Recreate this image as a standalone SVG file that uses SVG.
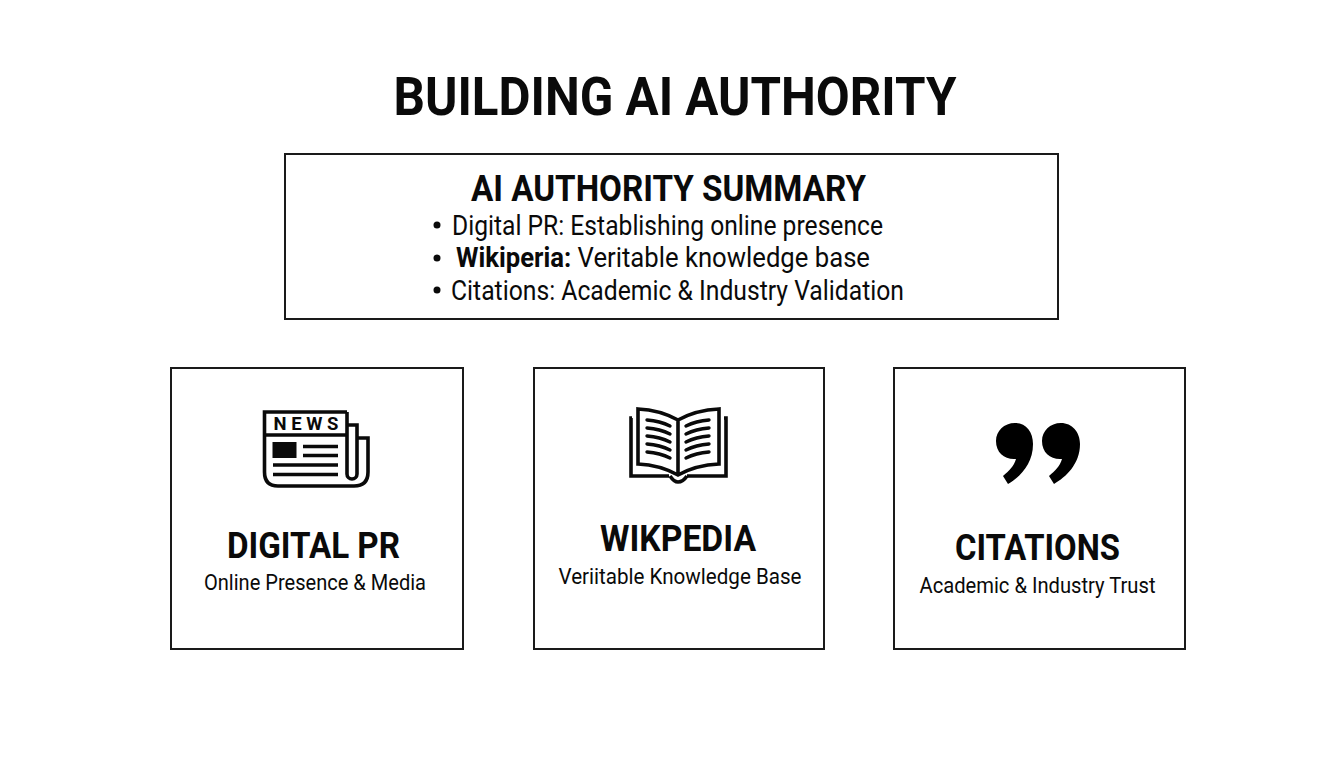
<svg xmlns="http://www.w3.org/2000/svg" width="1344" height="768" viewBox="0 0 1344 768">
<style>
text{font-family:Roboto,"Liberation Sans",sans-serif;fill:#0a0a0a;text-anchor:middle}
.box{fill:#fff;stroke:#1a1a1a;stroke-width:2}
.h{font-weight:700;font-size:37.500px}
.s{font-size:22px}
.b{font-size:27px}
.ic{fill:none;stroke:#0a0a0a;stroke-width:3.6}
.ln{fill:none;stroke:#0a0a0a;stroke-width:3.4;stroke-linecap:round}
</style>
<rect width="1344" height="768" fill="#fff"/>
<g id="title"><text x="675" y="114.500" font-size="54.500" font-weight="700" textLength="563" lengthAdjust="spacingAndGlyphs">BUILDING AI AUTHORITY</text></g>
<g id="summary">
<rect class="box" x="285" y="154" width="773" height="165"/>
<text x="668.500" y="200.500" font-size="37.500" font-weight="700" textLength="395" lengthAdjust="spacingAndGlyphs">AI AUTHORITY SUMMARY</text>
<circle cx="437" cy="225" r="3.500" fill="#0a0a0a"/>
<text x="667.500" y="235" class="b" textLength="431" lengthAdjust="spacingAndGlyphs">Digital PR: Establishing online presence</text>
<circle cx="437" cy="258" r="3.500" fill="#0a0a0a"/>
<text x="663" y="267" class="b" textLength="414" lengthAdjust="spacingAndGlyphs"><tspan font-weight="700">Wikiperia:</tspan> Veritable knowledge base</text>
<circle cx="437" cy="290" r="3.500" fill="#0a0a0a"/>
<text x="677.500" y="300" class="b" textLength="453" lengthAdjust="spacingAndGlyphs">Citations: Academic &amp; Industry Validation</text>
</g>
<g id="digital-pr">
<rect class="box" x="171" y="368" width="292" height="281"/>
<path class="ic" d="M347 412H264.500V472Q264.500 486 278 486H354Q368 486 368 472V438H357"/>
<path class="ic" d="M264.500 435H347M347 412V474A5 5 0 0 0 357 474V425H347"/>
<text x="306" y="430" font-size="18.500" font-weight="700" textLength="65">NEWS</text>
<rect x="272.500" y="442" width="24" height="16" fill="#0a0a0a"/>
<path d="M303 446.500H338M303 455.500H338M273 465H338M273 474.500H338" fill="none" stroke="#0a0a0a" stroke-width="3.500"/>
<text x="313.500" y="557.500" class="h" textLength="173" lengthAdjust="spacingAndGlyphs">DIGITAL PR</text>
<text x="315" y="590" class="s" textLength="222" lengthAdjust="spacingAndGlyphs">Online Presence &amp; Media</text>
</g>
<g id="wikipedia">
<rect class="box" x="534" y="368" width="290" height="281"/>
<path class="ic" d="M678 420Q660 410 638 409V464Q660 465 678 475Q696 465 719 464V409Q696 410 678 420V475"/>
<path class="ic" d="M632 418H631V476H669M724 418H726V476H687"/>
<path class="ic" d="M670 476Q674 482 678 482Q683 482 687 476"/>
<path class="ln" d="M647 420Q660 421 670 426M647 428Q660 429 670 434M647 436Q660 437 670 442M647 444Q660 445 670 450M647 452Q660 453 670 458M709 420Q696 421 686 426M709 428Q696 429 686 434M709 436Q696 437 686 442M709 444Q696 445 686 450M709 452Q696 453 686 458"/>
<text x="678" y="550.500" class="h" textLength="156" lengthAdjust="spacingAndGlyphs">WIKPEDIA</text>
<text x="680" y="584" class="s" textLength="243" lengthAdjust="spacingAndGlyphs">Veriitable Knowledge Base</text>
</g>
<g id="citations">
<rect class="box" x="894" y="368" width="291" height="281"/>
<path fill="#000" d="M1015 423C1026 423 1033 432 1033 444C1033 464 1020 477 1008 484L1003 476C1009 471 1014 466 1016 459C1005 460 996 453 996 441C996 431 1004 423 1015 423Z"/>
<path fill="#000" d="M1061 423C1072 423 1080 432 1080 444C1080 464 1066 477 1054 484L1049 476C1055 471 1060 466 1062 459C1051 460 1042 453 1042 441C1042 431 1050 423 1061 423Z"/>
<text x="1037.500" y="559.500" class="h" textLength="165" lengthAdjust="spacingAndGlyphs">CITATIONS</text>
<text x="1037.500" y="593" class="s" textLength="236" lengthAdjust="spacingAndGlyphs">Academic &amp; Industry Trust</text>
</g>
<g id="connectors"/>
</svg>
